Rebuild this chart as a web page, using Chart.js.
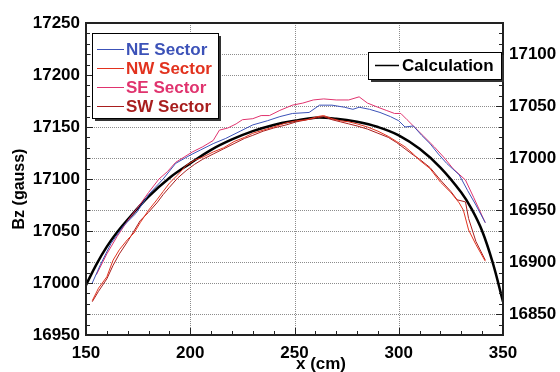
<!DOCTYPE html>
<html>
<head>
<meta charset="utf-8">
<script src="https://cdn.jsdelivr.net/npm/chart.js@4.4.1/dist/chart.umd.min.js"></script>
<style>
  html, body { margin: 0; padding: 0; background: #fff; }
  #wrap { width: 560px; height: 372px; }
</style>
</head>
<body>
<div id="wrap"><canvas id="bz" width="560" height="372"></canvas></div>
<script>
// tick labels
const xTicks = [150, 200, 250, 300, 350];
const leftTicks = [16950, 17000, 17050, 17100, 17150, 17200, 17250];
const rightTicks = [16850, 16900, 16950, 17000, 17050, 17100];

// measured sectors (x in cm, Bz in gauss, left axis)
const neX = [153, 157, 162, 168, 174, 180, 187, 193, 200, 205, 211, 217, 224, 230, 237, 243, 249, 257, 262, 268, 274, 278, 281, 286, 291, 296, 300, 303, 307, 311, 315, 319, 323, 329, 333, 337, 341.5];
const neY = [17000, 17018, 17038, 17055, 17067, 17085, 17100, 17115, 17123, 17128, 17134, 17139, 17146, 17152, 17156, 17160, 17163, 17164, 17171, 17171, 17169, 17167, 17169, 17167, 17164, 17160, 17156, 17150, 17151, 17142, 17134, 17124, 17115, 17104, 17089, 17075, 17058];

const nwX = [153, 156, 160, 163, 166, 170, 173, 176, 180, 184, 187, 190, 194, 198, 202, 206, 211, 216, 221, 226, 230, 235, 240, 246, 251, 256, 261, 264, 268, 272, 276, 280, 285, 290, 295, 299, 303, 307, 310, 315, 320, 325, 329, 331, 333.5, 337, 341.5];
const nwY = [16983, 16995, 17006, 17022, 17032, 17042, 17048, 17058, 17070, 17080, 17088, 17096, 17104, 17113, 17118, 17121, 17126, 17130, 17136, 17140, 17144, 17147, 17150, 17154, 17156, 17157, 17160, 17161, 17158, 17156, 17155, 17153, 17150, 17146, 17141, 17136, 17131, 17124, 17118, 17110, 17097, 17087, 17077, 17070, 17051, 17037, 17021];

const seX = [155, 160, 165, 170, 175, 180, 185, 189, 193, 197, 201, 206, 211, 214, 218, 222, 225, 230, 234, 238, 243, 249, 254, 259, 264, 270, 276, 281, 285, 290, 294, 298, 301, 304, 307, 312, 317, 322, 326, 332, 336, 341.5];
const seY = [17008, 17028, 17045, 17060, 17073, 17087, 17100, 17107, 17116, 17121, 17126, 17131, 17137, 17147, 17149, 17153, 17157, 17158, 17161, 17161, 17166, 17171, 17173, 17176, 17177, 17176, 17176, 17179, 17173, 17169, 17166, 17163, 17163, 17157, 17151, 17141, 17131, 17120, 17110, 17099, 17082, 17058];

const swX = [153, 156, 160, 163, 166, 170, 173, 176, 180, 184, 187, 190, 194, 198, 202, 206, 211, 216, 221, 226, 230, 235, 240, 246, 251, 256, 261, 264, 268, 272, 276, 280, 285, 290, 295, 299, 303, 307, 310, 315, 320, 325, 328, 332, 333.5, 337, 341.5];
const swY = [16982, 16992, 17004, 17017, 17028, 17040, 17050, 17060, 17068, 17077, 17085, 17092, 17101, 17108, 17114, 17119, 17124, 17129, 17134, 17139, 17142, 17146, 17149, 17152, 17155, 17157, 17159, 17160, 17157, 17155, 17153, 17151, 17148, 17144, 17140, 17135, 17129, 17123, 17119, 17111, 17099, 17088, 17080, 17078, 17062, 17040, 17022];

// calculation (right axis)
const calcX = [150, 155, 160, 165, 170, 180, 190, 200, 210, 220, 230, 240, 250, 260, 270, 280, 290, 300, 310, 320, 330, 335, 340, 345, 350];
const calcY = [16878, 16898, 16915, 16929, 16941, 16963, 16981, 16995, 17008, 17018, 17026, 17032, 17036, 17039, 17038, 17035, 17030, 17022, 17009, 16991, 16967, 16951, 16930, 16900, 16862];

const sectorNames = ['NE Sector', 'NW Sector', 'SE Sector', 'SW Sector'];
const sectorColors = ['#3c52b8', '#e2321e', '#e0336e', '#a81e1e'];

const FONT = '"Liberation Sans", Arial, sans-serif';
const pts = (xs, ys) => xs.map((x, i) => ({ x: x, y: ys[i] }));

const sectorSets = [[neX, neY], [nwX, nwY], [seX, seY], [swX, swY]].map((s, i) => ({
  label: sectorNames[i],
  data: pts(s[0], s[1]),
  borderColor: sectorColors[i],
  borderWidth: 1,
  pointRadius: 0,
  yAxisID: 'y'
}));

// dotted grid under the data
const grid = {
  id: 'grid',
  beforeDatasetsDraw(chart) {
    const c = chart.ctx;
    const a = chart.chartArea;
    const sx = chart.scales.x, sy = chart.scales.y, sy2 = chart.scales.y2;
    c.save();
    c.strokeStyle = '#8c8c8c';
    c.lineWidth = 1;
    c.setLineDash([1, 1]);
    c.beginPath();
    xTicks.slice(1, -1).forEach(v => {
      const p = Math.round(sx.getPixelForValue(v)) + 0.5;
      c.moveTo(p, a.top); c.lineTo(p, a.bottom);
    });
    leftTicks.slice(1, -1).forEach(v => {
      const p = Math.round(sy.getPixelForValue(v)) + 0.5;
      c.moveTo(a.left, p); c.lineTo(a.right, p);
    });
    rightTicks.forEach(v => {
      const p = Math.round(sy2.getPixelForValue(v)) + 0.5;
      c.moveTo(a.left, p); c.lineTo(a.right, p);
    });
    c.stroke();
    c.restore();
  }
};

// frame, minor ticks, axis titles and the two legend boxes
const decor = {
  id: 'decor',
  afterDraw(chart) {
    const c = chart.ctx;
    const a = chart.chartArea;
    const sx = chart.scales.x, sy = chart.scales.y, sy2 = chart.scales.y2;
    c.save();
    c.strokeStyle = '#222';
    c.lineWidth = 1;
    c.beginPath();
    // minor/major ticks, pointing inward
    for (let v = 150; v <= 350; v += 10) {
      const p = Math.round(sx.getPixelForValue(v)) + 0.5;
      const len = v % 50 === 0 ? 7 : 4;
      c.moveTo(p, a.bottom); c.lineTo(p, a.bottom - len);
    }
    for (let v = 16950; v <= 17250; v += 10) {
      const p = Math.round(sy.getPixelForValue(v)) + 0.5;
      const len = v % 50 === 0 ? 7 : 4;
      c.moveTo(a.left, p); c.lineTo(a.left + len, p);
    }
    for (let v = 16840; v <= 17130; v += 10) {
      const p = Math.round(sy2.getPixelForValue(v)) + 0.5;
      const len = v % 50 === 0 ? 7 : 4;
      c.moveTo(a.right, p); c.lineTo(a.right - len, p);
    }
    c.stroke();
    c.lineWidth = 2;
    c.strokeRect(a.left, a.top, a.right - a.left, a.bottom - a.top);

    // axis titles
    c.fillStyle = '#000';
    c.font = 'bold 17px ' + FONT;
    c.textAlign = 'center';
    c.textBaseline = 'middle';
    c.fillText('x (cm)', 321, 364);
    c.save();
    c.translate(20, 189);
    c.rotate(-Math.PI / 2);
    c.font = 'bold 16px ' + FONT;
    c.fillText('Bz (gauss)', 0, 0);
    c.restore();

    // legend boxes
    const box = (x, y, w, h) => {
      c.fillStyle = '#333';
      c.fillRect(x + 3, y + 3, w, h);
      c.fillStyle = '#fff';
      c.fillRect(x, y, w, h);
      c.lineWidth = 1;
      c.strokeStyle = '#000';
      c.strokeRect(x + 0.5, y + 0.5, w, h);
    };
    c.textAlign = 'left';
    c.font = 'bold 17px ' + FONT;
    box(92, 33, 126, 85);
    sectorNames.forEach((n, i) => {
      const y = 49 + i * 19;
      c.strokeStyle = sectorColors[i];
      c.lineWidth = 1;
      c.beginPath(); c.moveTo(97, y + 0.5); c.lineTo(124, y + 0.5); c.stroke();
      c.fillStyle = sectorColors[i];
      c.fillText(n, 126, y + 1);
    });
    box(368, 52, 133, 27);
    c.strokeStyle = '#000';
    c.lineWidth = 1.5;
    c.beginPath(); c.moveTo(375, 65.5); c.lineTo(399, 65.5); c.stroke();
    c.fillStyle = '#000';
    c.fillText('Calculation', 402, 66);
    c.restore();
  }
};

const noGrid = { display: false, drawTicks: false };
const noBorder = { display: false };
const tickFont = { family: FONT, size: 17, weight: 'bold' };
const plain = v => String(v);

new Chart(document.getElementById('bz'), {
  type: 'line',
  data: {
    datasets: sectorSets.concat([{
      label: 'Calculation',
      data: pts(calcX, calcY),
      borderColor: '#000',
      borderWidth: 2.5,
      pointRadius: 0,
      tension: 0.4,
      yAxisID: 'y2'
    }])
  },
  options: {
    responsive: false,
    animation: false,
    devicePixelRatio: 1,
    layout: { padding: { top: 23, left: 0, right: 0, bottom: 0 } },
    plugins: { legend: { display: false }, tooltip: { enabled: false } },
    scales: {
      x: {
        type: 'linear', min: 150, max: 350,
        afterBuildTicks: s => { s.ticks = xTicks.map(v => ({ value: v })); },
        afterFit: s => { s.height = 37; },
        ticks: { color: '#000', font: tickFont, padding: 8, maxRotation: 0, callback: plain },
        grid: noGrid, border: noBorder
      },
      y: {
        type: 'linear', position: 'left', min: 16950, max: 17250,
        afterBuildTicks: s => { s.ticks = leftTicks.map(v => ({ value: v })); },
        afterFit: s => { s.width = 86; },
        ticks: { color: '#000', font: tickFont, padding: 6, callback: plain },
        grid: noGrid, border: noBorder
      },
      y2: {
        type: 'linear', position: 'right', min: 16830, max: 17130,
        afterBuildTicks: s => { s.ticks = rightTicks.map(v => ({ value: v })); },
        afterFit: s => { s.width = 57; },
        ticks: { color: '#000', font: tickFont, padding: 6, callback: plain },
        grid: noGrid, border: noBorder
      }
    }
  },
  plugins: [grid, decor]
});
</script>
</body>
</html>
